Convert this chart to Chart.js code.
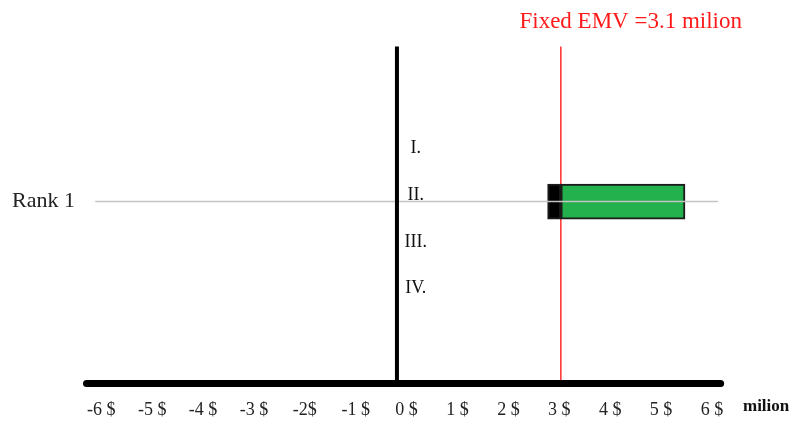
<!DOCTYPE html>
<html>
<head>
<meta charset="utf-8">
<script src="https://cdn.jsdelivr.net/npm/chart.js@4.4.1/dist/chart.umd.min.js"></script>
<style>
  html, body { margin: 0; padding: 0; background: #ffffff; }
  #wrap { width: 797px; height: 428px; position: relative; }
</style>
</head>
<body>
<div id="wrap"><canvas id="c" width="797" height="428"></canvas></div>
<script>
// ---- data ----
const tickValues = [-6, -5, -4, -3, -2, -1, 0, 1, 2, 3, 4, 5, 6];
const tickLabels = ['-6 $', '-5 $', '-4 $', '-3 $', '-2$', '-1 $', '0 $', '1 $', '2 $', '3 $', '4 $', '5 $', '6 $'];
const unitLabel = 'milion';
const titleText = 'Fixed EMV =3.1 milion';
const rankLabels = ['Rank 1'];
const rankY = [3.92];
const lossSegment = [[2.77, 3.03]];   // black part of the bar
const gainSegment = [[3.03, 5.47]];   // green part of the bar
const emvValue = 3.03;                // red vertical line
const zeroLineValue = -0.19;          // thick black vertical line
const romanLabels = ['I.', 'II.', 'III.', 'IV.'];
const romanY = [5.06, 4.06, 3.05, 2.05];
const romanX = 0.18;
const rankLineRange = [-6.12, 6.12];  // grey rank guide line
const axisLineRange = [-6.29, 6.17];  // thick horizontal axis
const xRange = [-6.36, 6.59];
const yRange = [0, 7.26];

const SERIF = "'Liberation Serif', 'DejaVu Serif', serif";

const drawPlugin = {
  id: 'drawPlugin',
  beforeDatasetsDraw(chart) {
    const ctx = chart.ctx, x = chart.scales.x, y = chart.scales.y;
    ctx.save();
    ctx.strokeStyle = '#ff3b3b';
    ctx.lineWidth = 1.6;
    ctx.beginPath();
    ctx.moveTo(x.getPixelForValue(emvValue), y.getPixelForValue(yRange[1]));
    ctx.lineTo(x.getPixelForValue(emvValue), y.getPixelForValue(yRange[0]));
    ctx.stroke();
    ctx.restore();
  },
  afterDatasetsDraw(chart) {
    const ctx = chart.ctx, x = chart.scales.x, y = chart.scales.y;
    ctx.save();
    ctx.strokeStyle = '#c4c4c4';
    ctx.lineWidth = 1.5;
    rankY.forEach(v => {
      ctx.beginPath();
      ctx.moveTo(x.getPixelForValue(rankLineRange[0]), y.getPixelForValue(v));
      ctx.lineTo(x.getPixelForValue(rankLineRange[1]), y.getPixelForValue(v));
      ctx.stroke();
    });
    ctx.strokeStyle = '#000';
    ctx.lineWidth = 4;
    ctx.lineCap = 'butt';
    ctx.beginPath();
    ctx.moveTo(x.getPixelForValue(zeroLineValue), y.getPixelForValue(yRange[1]));
    ctx.lineTo(x.getPixelForValue(zeroLineValue), y.getPixelForValue(yRange[0]));
    ctx.stroke();
    ctx.lineWidth = 7;
    ctx.lineCap = 'round';
    ctx.beginPath();
    ctx.moveTo(x.getPixelForValue(axisLineRange[0]), y.getPixelForValue(yRange[0]));
    ctx.lineTo(x.getPixelForValue(axisLineRange[1]), y.getPixelForValue(yRange[0]));
    ctx.stroke();
    ctx.fillStyle = '#111';
    ctx.font = '18px ' + SERIF;
    ctx.textAlign = 'center';
    ctx.textBaseline = 'middle';
    romanLabels.forEach((t, i) => {
      ctx.fillText(t, x.getPixelForValue(romanX), y.getPixelForValue(romanY[i]));
    });
    const last = x.ticks.length - 1;
    const lastPx = x.getPixelForValue(x.ticks[last].value);
    ctx.font = 'bold 17px ' + SERIF;
    ctx.textAlign = 'left';
    ctx.textBaseline = 'alphabetic';
    ctx.fillStyle = '#111';
    ctx.fillText(unitLabel, lastPx + 31, y.getPixelForValue(yRange[0]) + 27);
    ctx.restore();
  }
};

new Chart(document.getElementById('c'), {
  type: 'bar',
  data: {
    datasets: [
      {
        label: 'loss',
        data: lossSegment.map((s, i) => ({ x: s, y: rankY[i] })),
        backgroundColor: '#000000',
        borderColor: '#1a1a1a',
        borderWidth: 2,
        borderSkipped: false,
        barThickness: 35,
        grouped: false
      },
      {
        label: 'gain',
        data: gainSegment.map((s, i) => ({ x: s, y: rankY[i] })),
        backgroundColor: '#22b14c',
        borderColor: '#1a1a1a',
        borderWidth: 2,
        borderSkipped: false,
        barThickness: 35,
        grouped: false
      }
    ]
  },
  options: {
    indexAxis: 'y',
    responsive: false,
    animation: false,
    layout: { padding: { left: 4, right: 55, top: 0, bottom: 8 } },
    plugins: {
      legend: { display: false },
      tooltip: { enabled: false },
      title: {
        display: true,
        text: titleText,
        align: 'end',
        color: '#ff1a1a',
        font: { family: SERIF, size: 23, weight: 'normal' },
        padding: { top: 8, bottom: 11 }
      }
    },
    scales: {
      x: {
        type: 'linear',
        min: xRange[0],
        max: xRange[1],
        offset: false,
        grid: { display: false, drawTicks: false },
        border: { display: false },
        afterBuildTicks: (s) => { s.ticks = tickValues.map(v => ({ value: v })); },
        afterFit: (s) => { s.height = 36.5; },
        ticks: {
          autoSkip: false,
          maxRotation: 0,
          padding: 16,
          color: '#222',
          font: { family: SERIF, size: 18 },
          callback: (v) => { const i = tickValues.indexOf(v); return i >= 0 ? tickLabels[i] : ''; }
        }
      },
      y: {
        type: 'linear',
        min: yRange[0],
        max: yRange[1],
        offset: false,
        grid: { display: false, drawTicks: false, offset: false },
        border: { display: false },
        afterBuildTicks: (s) => { s.ticks = rankY.map(v => ({ value: v })); },
        ticks: {
          padding: 8,
          color: '#222',
          font: { family: SERIF, size: 22 },
          callback: (v) => { const i = rankY.indexOf(v); return i >= 0 ? rankLabels[i] : ''; }
        }
      }
    }
  },
  plugins: [drawPlugin]
});
</script>
</body>
</html>
